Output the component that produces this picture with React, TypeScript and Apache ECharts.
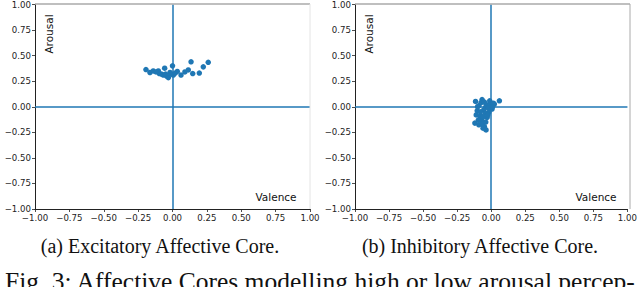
import React, { useEffect, useRef } from "react";
import * as echarts from "echarts";

const ticks = [-1, -0.75, -0.5, -0.25, 0, 0.25, 0.5, 0.75, 1];

const excitatoryValence = [-0.193, -0.164, -0.14, -0.103, -0.096, -0.067, -0.057, -0.043, -0.03, -0.018, 0.0, 0.006, 0.035, 0.062, 0.09, 0.115, 0.135, 0.147, 0.195, 0.224, 0.26, -0.08, -0.05, -0.01, 0.02, -0.12];
const excitatoryArousal = [0.364, 0.335, 0.35, 0.35, 0.325, 0.31, 0.377, 0.3, 0.285, 0.335, 0.4, 0.31, 0.345, 0.31, 0.34, 0.36, 0.44, 0.325, 0.33, 0.39, 0.435, 0.32, 0.32, 0.32, 0.33, 0.34];

const inhibitoryValence = [-0.115, -0.067, -0.011, 0.06, 0.023, -0.09, -0.042, -0.103, 0.006, -0.018, -0.078, -0.03, -0.067, -0.12, -0.091, -0.05, -0.038, -0.06, -0.11, -0.055, -0.005, -0.035, -0.075, -0.1, -0.02, 0.01, -0.045, -0.085, -0.06, -0.025, 0.015, -0.07, -0.095, -0.04, -0.08, -0.05];
const inhibitoryArousal = [0.052, 0.07, 0.058, 0.058, 0.026, 0.01, -0.007, -0.04, -0.022, -0.055, -0.088, -0.104, -0.137, -0.16, -0.176, -0.195, -0.227, -0.21, -0.08, -0.03, 0.03, 0.02, 0.04, 0.0, -0.01, 0.0, -0.06, -0.12, -0.1, -0.08, 0.035, -0.17, -0.13, -0.15, -0.05, 0.045];

const captionA = "(a) Excitatory Affective Core.";
const captionB = "(b) Inhibitory Affective Core.";
const figCaption = "Fig. 3: Affective Cores modelling high or low arousal percep-";

const BLUE = "#1f77b4";

function fmt(v: number) {
  const s = Math.abs(v).toFixed(2);
  return v < 0 ? "\u2212" + s : s;
}

export default function App() {
  const ref = useRef<HTMLDivElement>(null);
  useEffect(() => {
    if (!ref.current) return;
    const chart = echarts.init(ref.current, undefined, { renderer: "svg" });
    const grids = [
      { left: 35, top: 4, width: 275, height: 205 },
      { left: 355, top: 4, width: 275, height: 205 },
    ];
    const axisCommon = (gi: number) => ({
      gridIndex: gi,
      type: "value" as const,
      min: ticks[0],
      max: ticks[ticks.length - 1],
      interval: 0.25,
      splitLine: { show: false },
      axisLine: { show: true, onZero: false, lineStyle: { color: "#222", width: 1 } },
      axisTick: { show: true, length: 3, lineStyle: { color: "#222", width: 0.8 } },
      axisLabel: {
        fontFamily: "DejaVu Sans",
        fontSize: 8.6,
        color: "#222",
        margin: 4,
        formatter: (v: number) => fmt(v),
        showMinLabel: true,
        showMaxLabel: true,
      },
    });
    const xAxis = [0, 1].map((gi) => axisCommon(gi));
    const yAxis = [0, 1].map((gi) => axisCommon(gi));
    const mkSeries = (gi: number, xs: number[], ys: number[]) => ({
      type: "scatter" as const,
      xAxisIndex: gi,
      yAxisIndex: gi,
      symbolSize: 5.5,
      itemStyle: { color: BLUE, opacity: 1 },
      data: xs.map((x, i) => [x, ys[i]]),
      markLine: {
        silent: true,
        symbol: "none",
        label: { show: false },
        lineStyle: { color: BLUE, type: "solid", width: 1.5 },
        data: [{ xAxis: 0 }, { yAxis: 0 }],
        z: 1,
      },
      z: 3,
    });
    const frameLines = (g: { left: number; top: number; width: number; height: number }, rightColor: string) => [
      {
        type: "line",
        shape: { x1: g.left, y1: g.top, x2: g.left + g.width, y2: g.top },
        style: { stroke: "#aaa", lineWidth: 1.6 },
        z: 5,
      },
      {
        type: "line",
        shape: { x1: g.left + g.width, y1: g.top, x2: g.left + g.width, y2: g.top + g.height },
        style: { stroke: rightColor, lineWidth: 1 },
        z: 5,
      },
    ];
    const axisText = (g: { left: number; top: number; width: number; height: number }) => [
      {
        type: "text",
        x: g.left + 14,
        y: g.top + 30,
        rotation: Math.PI / 2,
        style: {
          text: "Arousal",
          fontFamily: "DejaVu Sans",
          fontSize: 10.5,
          fill: "#111",
          align: "center",
          verticalAlign: "middle",
        },
      },
      {
        type: "text",
        x: g.left + g.width - 34,
        y: g.top + 193,
        style: {
          text: "Valence",
          fontFamily: "DejaVu Sans",
          fontSize: 10.5,
          fill: "#111",
          align: "center",
          verticalAlign: "middle",
        },
      },
    ];
    chart.setOption({
      animation: false,
      backgroundColor: "#fff",
      grid: grids.map((g) => ({ ...g, show: false })),
      xAxis,
      yAxis,
      series: [mkSeries(0, excitatoryValence, excitatoryArousal), mkSeries(1, inhibitoryValence, inhibitoryArousal)],
      graphic: [
        ...frameLines(grids[0], "#e4e4e4"),
        ...frameLines(grids[1], "#aaa"),
        ...axisText(grids[0]),
        ...axisText(grids[1]),
        {
          type: "text",
          x: 160,
          y: 245.5,
          style: { text: captionA, fontFamily: "Liberation Serif", fontSize: 20, fill: "#111", align: "center", verticalAlign: "middle" },
        },
        {
          type: "text",
          x: 480,
          y: 245.5,
          style: { text: captionB, fontFamily: "Liberation Serif", fontSize: 20, fill: "#111", align: "center", verticalAlign: "middle" },
        },
        {
          type: "text",
          x: 5,
          y: 281.5,
          style: { text: figCaption, fontFamily: "Liberation Serif", fontSize: 25.5, fill: "#111", align: "left", verticalAlign: "middle" },
        },
      ],
    });
    return () => chart.dispose();
  }, []);
  return (
    <div style={{ position: "fixed", left: 0, top: 0, width: 640, height: 287, background: "#fff" }}>
      <div ref={ref} style={{ width: 640, height: 287 }} />
    </div>
  );
}
